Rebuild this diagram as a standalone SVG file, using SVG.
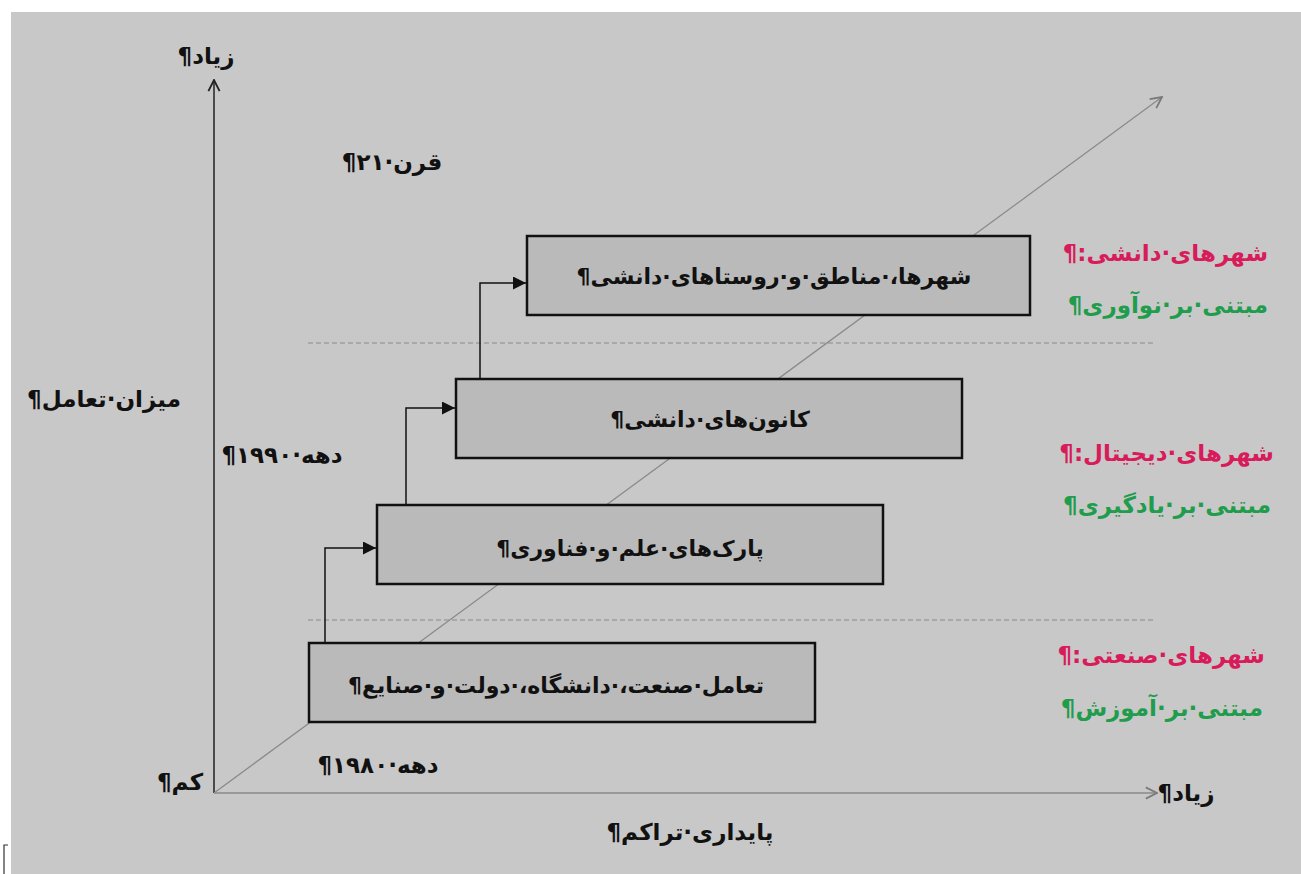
<svg xmlns="http://www.w3.org/2000/svg" width="1301" height="874" viewBox="0 0 1301 874">
<style>
text{font-family:"DejaVu Sans","Noto Sans",sans-serif;font-weight:bold;direction:rtl;unicode-bidi:embed}
.t{font-size:22px;fill:#111}
.l{font-size:23px;fill:#111}
.c{text-anchor:middle}
.pink{fill:#d81b5a;font-size:23px}
.green{fill:#1f9c4c;font-size:23px}
.box{fill:#bababa;stroke:#111;stroke-width:2.5}
.conn{fill:none;stroke:#111;stroke-width:1.5}
.dash{stroke:#8a8a8a;stroke-width:1.2;stroke-dasharray:5 3}
</style>
<defs>
<marker id="fill" viewBox="0 0 10 10" refX="10" refY="5" markerWidth="14" markerHeight="13" markerUnits="userSpaceOnUse" orient="auto">
<path d="M0,0 L10,5 L0,10 Z" fill="#111"/>
</marker>
<marker id="openB" viewBox="0 0 10 10" refX="9" refY="5" markerWidth="14" markerHeight="14" markerUnits="userSpaceOnUse" orient="auto">
<path d="M1,1 L9,5 L1,9" fill="none" stroke="#222" stroke-width="1.3"/>
</marker>
<marker id="openG" viewBox="0 0 10 10" refX="9" refY="5" markerWidth="14" markerHeight="14" markerUnits="userSpaceOnUse" orient="auto">
<path d="M1,1 L9,5 L1,9" fill="none" stroke="#7a7a7a" stroke-width="1.3"/>
</marker>
</defs>
<rect x="0" y="0" width="1301" height="874" fill="#ffffff"/>
<rect x="11" y="12" width="1290" height="862" fill="#c8c8c8"/>
<path d="M8,845 L4,845 L4,874" fill="none" stroke="#333" stroke-width="1.2"/>

<g id="axes">
<line x1="214" y1="793" x2="214" y2="80" stroke="#222" stroke-width="1.5" marker-end="url(#openB)"/>
<line x1="214" y1="793" x2="1157" y2="793" stroke="#8a8a8a" stroke-width="1.5" marker-end="url(#openG)"/>
<line x1="214" y1="793" x2="1162" y2="97" stroke="#8a8a8a" stroke-width="1.3" marker-end="url(#openG)"/>
<line class="dash" x1="308" y1="343" x2="1156" y2="343"/>
<line class="dash" x1="308" y1="620" x2="1156" y2="620"/>
</g>

<g id="node-1">
<rect class="box" x="527" y="236" width="503" height="79"/>
<text class="t c" x="774" y="284">شهرها،·مناطق·و·روستاهای·دانشی¶</text>
</g>
<g id="node-2">
<rect class="box" x="456" y="379" width="506" height="79"/>
<text class="t c" x="710" y="427">کانون‌های·دانشی¶</text>
</g>
<g id="node-3">
<rect class="box" x="377" y="505" width="506" height="79"/>
<text class="t c" x="630" y="556">پارک‌های·علم·و·فناوری¶</text>
</g>
<g id="node-4">
<rect class="box" x="309" y="643" width="506" height="79"/>
<text class="t c" x="556" y="693">تعامل·صنعت،·دانشگاه،·دولت·و·صنایع¶</text>
</g>

<g id="connectors">
<path class="conn" d="M325,643 L325,548 L376,548" marker-end="url(#fill)"/>
<path class="conn" d="M406,505 L406,408 L455,408" marker-end="url(#fill)"/>
<path class="conn" d="M480,379 L480,283 L526,283" marker-end="url(#fill)"/>
</g>

<g id="labels">
<text class="l c" x="206" y="64">زیاد¶</text>
<text class="l c" x="392" y="170">قرن·۲۱¶</text>
<text class="l c" x="104" y="407">میزان·تعامل¶</text>
<text class="l c" x="282" y="463">دهه·۱۹۹۰¶</text>
<text class="l c" x="180" y="790">کم¶</text>
<text class="l c" x="378" y="773">دهه·۱۹۸۰¶</text>
<text class="l c" x="1186" y="801">زیاد¶</text>
<text class="l c" x="690" y="840">پایداری·تراکم¶</text>
</g>

<g id="right-labels">
<text class="pink" x="1268" y="261">شهرهای·دانشی:¶</text>
<text class="green" x="1268" y="313">مبتنی·بر·نوآوری¶</text>
<text class="pink" x="1274" y="461">شهرهای·دیجیتال:¶</text>
<text class="green" x="1271" y="513">مبتنی·بر·یادگیری¶</text>
<text class="pink" x="1265" y="663">شهرهای·صنعتی:¶</text>
<text class="green" x="1263" y="716">مبتنی·بر·آموزش¶</text>
</g>
</svg>
